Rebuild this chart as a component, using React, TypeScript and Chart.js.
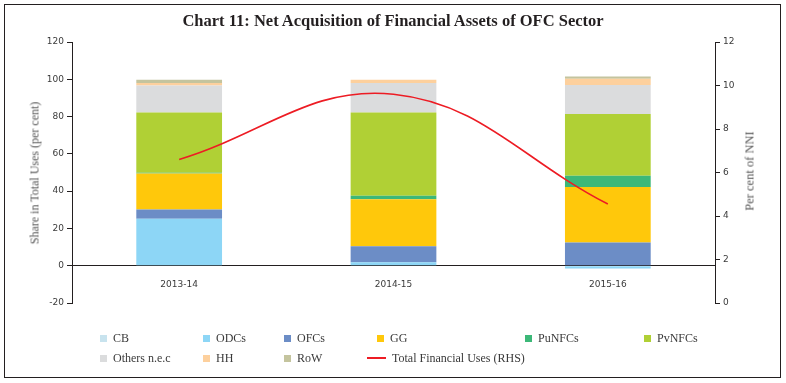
import React, { useEffect, useRef } from "react";
import { Chart, registerables } from "chart.js";

Chart.register(...registerables);

// ---- data ----
const categories = ["2013-14", "2014-15", "2015-16"];
const cbValues = [0, 0, 0];
const odcsValues = [25.2, 1.8, -1.5];
const ofcsValues = [5.0, 8.6, 12.5];
const ggValues = [19.3, 25.3, 29.7];
const punfcsValues = [0.3, 1.8, 6.1];
const pvnfcsValues = [32.4, 44.7, 33.1];
const othersValues = [14.5, 15.8, 15.6];
const hhValues = [1.3, 1.7, 3.3];
const rowValues = [1.7, 0, 1.2];
const totalUsesValues = [6.6, 9.6, 4.55];

const seriesNames = ["CB", "ODCs", "OFCs", "GG", "PuNFCs", "PvNFCs", "Others n.e.c", "HH", "RoW"];
const lineName = "Total Financial Uses (RHS)";
const chartTitle = "Chart 11: Net Acquisition of Financial Assets of OFC Sector";
const leftAxisTitle = "Share in Total Uses (per cent)";
const rightAxisTitle = "Per cent of NNI";

const barColors = ["#c8e3ee", "#8dd6f6", "#6c8dc6", "#ffc80b", "#3cb878", "#b0d035", "#dbdcdd", "#fdd09d", "#c4c49e"];
const lineColor = "#ed1c24";
const inkColor = "#231f20";
const textColor = "#3a3a3a";

// legend layout: [label index, left of box, row]
const legendSlots: Array<[number, number, number]> = [
  [0, 100, 0], [1, 203, 0], [2, 284, 0], [3, 377, 0], [4, 525, 0], [5, 644, 0],
  [6, 100, 1], [7, 203, 1], [8, 284, 1],
];
const legendRowY = [338, 358];

export default function App() {
  const canvasRef = useRef<HTMLCanvasElement>(null);

  useEffect(() => {
    document.body.style.margin = "0";
    const values = [cbValues, odcsValues, ofcsValues, ggValues, punfcsValues, pvnfcsValues, othersValues, hhValues, rowValues];
    const barSets: any[] = values.map((v, i) => ({
      type: "bar",
      label: seriesNames[i],
      data: v,
      backgroundColor: barColors[i],
      borderWidth: 0,
      stack: "s",
      yAxisID: "y",
      barPercentage: 0.4,
      categoryPercentage: 1.0,
      order: 2,
    }));
    const tickFont = { family: "DejaVu Sans", size: 9 };
    const chart = new Chart(canvasRef.current!, {
      type: "bar",
      data: {
        labels: categories,
        datasets: [
          ...barSets,
          {
            type: "line",
            label: lineName,
            data: totalUsesValues,
            borderColor: lineColor,
            backgroundColor: lineColor,
            borderWidth: 1.6,
            pointRadius: 0,
            tension: 0.4,
            fill: false,
            yAxisID: "y2",
            order: 0,
          } as any,
        ],
      },
      options: {
        responsive: false,
        animation: false,
        layout: { padding: { left: 0, right: 0, top: 42, bottom: 80 } },
        plugins: {
          legend: { display: false },
          tooltip: { enabled: false },
          title: { display: false },
        },
        scales: {
          x: {
            stacked: true,
            position: { y: 0 } as any,
            grid: { drawOnChartArea: false, drawTicks: false },
            border: { display: true, color: inkColor, width: 1 },
            ticks: { padding: 14, color: textColor, font: tickFont },
          },
          y: {
            stacked: true,
            position: "left",
            min: -20,
            max: 120,
            ticks: { stepSize: 20, padding: 3, color: textColor, font: tickFont },
            grid: { drawOnChartArea: false, tickLength: 5, color: inkColor },
            border: { display: true, color: inkColor, width: 1 },
            afterFit: (s: any) => { s.width = 72; },
          },
          y2: {
            position: "right",
            min: 0,
            max: 12,
            ticks: { stepSize: 2, padding: 3, color: textColor, font: tickFont },
            grid: { drawOnChartArea: false, tickLength: 5, color: inkColor },
            border: { display: true, color: inkColor, width: 1 },
            afterFit: (s: any) => { s.width = 71; },
          },
        },
      } as any,
    });
    return () => chart.destroy();
  }, []);

  const serif = "'Liberation Serif', 'Times New Roman', serif";

  return (
    <div style={{ position: "relative", width: 786, height: 383, background: "#fff", overflow: "hidden" }}>
      <div
        style={{
          position: "absolute", left: 4, top: 4, width: 777, height: 374,
          border: `1px solid ${inkColor}`, boxSizing: "border-box",
        }}
      />
      <canvas
        ref={canvasRef}
        width={786}
        height={383}
        style={{ position: "absolute", left: 0, top: 0, width: 786, height: 383 }}
      />
      <div
        style={{
          position: "absolute", left: 0, top: 11, width: 786, textAlign: "center",
          fontFamily: serif, fontWeight: "bold", fontSize: 16.5, lineHeight: "20px", color: inkColor,
        }}
      >
        {chartTitle}
      </div>
      <div
        style={{
          position: "absolute", left: 35, top: 172.5, transform: "translate(-50%, -50%) rotate(-90deg)",
          whiteSpace: "nowrap", fontFamily: serif, fontWeight: "normal", fontSize: 12, color: "#555",
        }}
      >
        {leftAxisTitle}
      </div>
      <div
        style={{
          position: "absolute", left: 750, top: 171, transform: "translate(-50%, -50%) rotate(-90deg)",
          whiteSpace: "nowrap", fontFamily: serif, fontWeight: "normal", fontSize: 12.5, color: "#555",
        }}
      >
        {rightAxisTitle}
      </div>
      {legendSlots.map(([idx, x, r]) => (
        <div
          key={idx}
          style={{
            position: "absolute", left: x, top: legendRowY[r] - 8, height: 16,
            display: "flex", alignItems: "center", whiteSpace: "nowrap",
            fontFamily: serif, fontSize: 12, color: textColor,
          }}
        >
          <span style={{ display: "inline-block", width: 7, height: 7, background: barColors[idx], marginRight: 6 }} />
          <span>{seriesNames[idx]}</span>
        </div>
      ))}
      <div
        style={{
          position: "absolute", left: 367, top: legendRowY[1] - 8, height: 16,
          display: "flex", alignItems: "center", whiteSpace: "nowrap",
          fontFamily: serif, fontSize: 12, color: textColor,
        }}
      >
        <span style={{ display: "inline-block", width: 19, height: 2, background: lineColor, marginRight: 6 }} />
        <span>{lineName}</span>
      </div>
    </div>
  );
}
